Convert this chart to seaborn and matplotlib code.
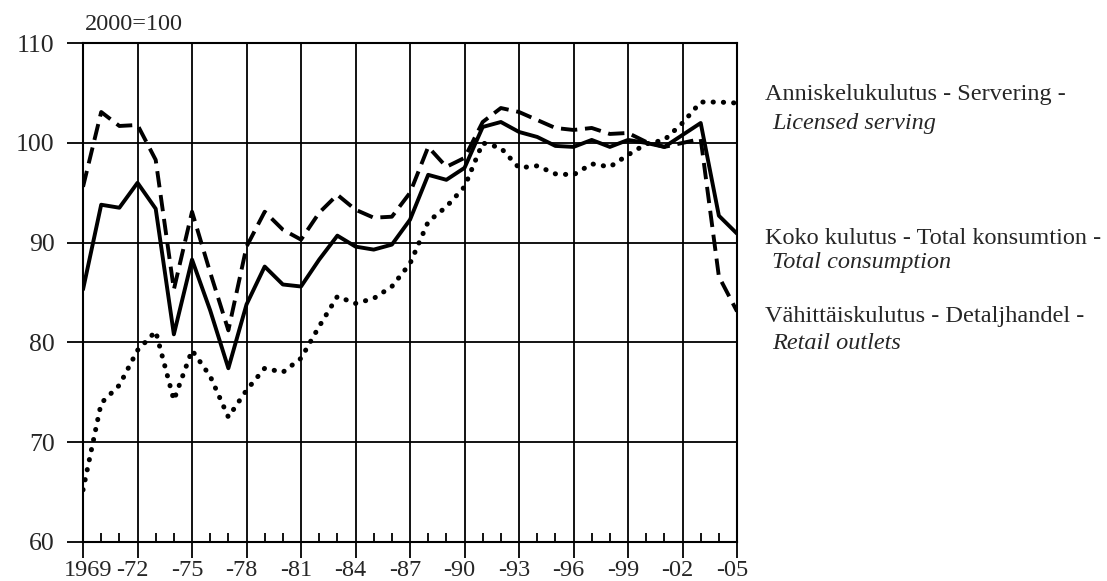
import numpy as np
import pandas as pd
import seaborn as sns
import matplotlib
matplotlib.use("Agg")
import matplotlib.pyplot as plt
from matplotlib.ticker import MultipleLocator, FixedLocator
from matplotlib.transforms import ScaledTranslation

years = list(range(1969, 2006))

# Koko kulutus - total consumption (solid)
total = [85.3, 93.8, 93.5, 96.0, 93.4, 80.8, 88.3, 83.2, 77.4, 83.8, 87.6,
         85.8, 85.6, 88.3, 90.7, 89.6, 89.3, 89.8, 92.3, 96.8, 96.3,
         97.5, 101.6, 102.1, 101.1, 100.6, 99.7, 99.6, 100.3, 99.6, 100.3,
         100.0, 99.6, 100.8, 102.0, 92.7, 90.9]

# Vähittäiskulutus - retail outlets (dashed)
retail = [95.6, 103.1, 101.7, 101.8, 98.3, 85.3, 93.1, 87.0, 81.2, 89.6, 93.1,
          91.3, 90.3, 93.0, 94.8, 93.3, 92.5, 92.6, 95.0, 99.6, 97.6,
          98.5, 102.1, 103.5, 103.1, 102.3, 101.5, 101.3, 101.5, 100.9, 101.0,
          100.1, 99.6, 100.0, 100.4, 86.6, 83.1]

# Anniskelukulutus - licensed serving (dotted)
serving = [65.2, 73.9, 75.7, 79.2, 81.1, 74.2, 79.2, 76.6, 72.5, 75.2, 77.4,
           77.0, 78.4, 81.6, 84.6, 83.9, 84.4, 85.6, 87.9, 92.1, 93.6,
           95.6, 100.0, 99.5, 97.5, 97.7, 96.9, 96.8, 97.9, 97.6, 98.8,
           99.9, 100.3, 102.0, 104.1, 104.1, 104.0]

major_years = list(range(1969, 2006, 3))
xtick_labels = ["1969", "-72", "-75", "-78", "-81", "-84", "-87", "-90",
                "-93", "-96", "-99", "-02", "-05"]

sns.set_style("white")
plt.rcParams["font.family"] = ["Liberation Serif", "DejaVu Serif"]
plt.rcParams["font.size"] = 17.5

fig = plt.figure(figsize=(11.07, 5.81), dpi=100)
ax = fig.add_axes([0.075, 0.0676, 0.5908, 0.858])

df = pd.DataFrame({"year": years, "total": total, "retail": retail, "serving": serving})

sns.lineplot(data=df, x="year", y="total", ax=ax, color="black", lw=2.8)
sns.lineplot(data=df, x="year", y="retail", ax=ax, color="black", lw=2.8,
             linestyle=(0, (4.2, 2.0)))
sns.lineplot(data=df, x="year", y="serving", ax=ax, color="black", lw=3.6,
             linestyle=(0, (0.05, 2.0)), dash_capstyle="round")

ax.set_xlim(1969, 2005)
ax.set_ylim(60, 110)
ax.set_xlabel("")
ax.set_ylabel("")

ax.set_xticks(major_years)
ax.set_xticklabels(xtick_labels)
ax.xaxis.set_minor_locator(MultipleLocator(1))
ax.yaxis.set_major_locator(MultipleLocator(10))

ax.grid(True, which="major", color="black", lw=1.3)
ax.tick_params(axis="y", which="major", direction="out", length=11.5, width=1.3,
               pad=9, left=True, labelsize=18.5, color="black")
ax.tick_params(axis="x", which="major", direction="out", length=11.5, width=1.3,
               pad=2, bottom=True, labelsize=17.5, color="black")
ax.tick_params(axis="x", which="minor", direction="in", length=6.5, width=1.3,
               bottom=True, color="black")
for s in ax.spines.values():
    s.set_color("black")
    s.set_linewidth(1.5)

# digits centred on the tick, hyphen hanging to the left
for i, lab in enumerate(ax.get_xticklabels()):
    dx = 4 / 72 if i == 0 else -3.5 / 72
    lab.set_transform(lab.get_transform() + ScaledTranslation(dx, 0, fig.dpi_scale_trans))

fig.text(0.0768, 0.957, "2000=100", fontsize=17.5, va="center", ha="left")

fig.text(0.691, 0.8365, "Anniskelukulutus - Servering -", fontsize=17.5, va="center")
fig.text(0.6975, 0.788, "Licensed serving", fontsize=17.5, va="center", style="italic")
fig.text(0.691, 0.590, "Koko kulutus - Total konsumtion -", fontsize=17.5, va="center")
fig.text(0.6975, 0.549, "Total consumption", fontsize=17.5, va="center", style="italic")
fig.text(0.691, 0.4544, "Vähittäiskulutus - Detaljhandel -", fontsize=17.5, va="center")
fig.text(0.6975, 0.4096, "Retail outlets", fontsize=17.5, va="center", style="italic")

fig.savefig("out.png", dpi=100)
